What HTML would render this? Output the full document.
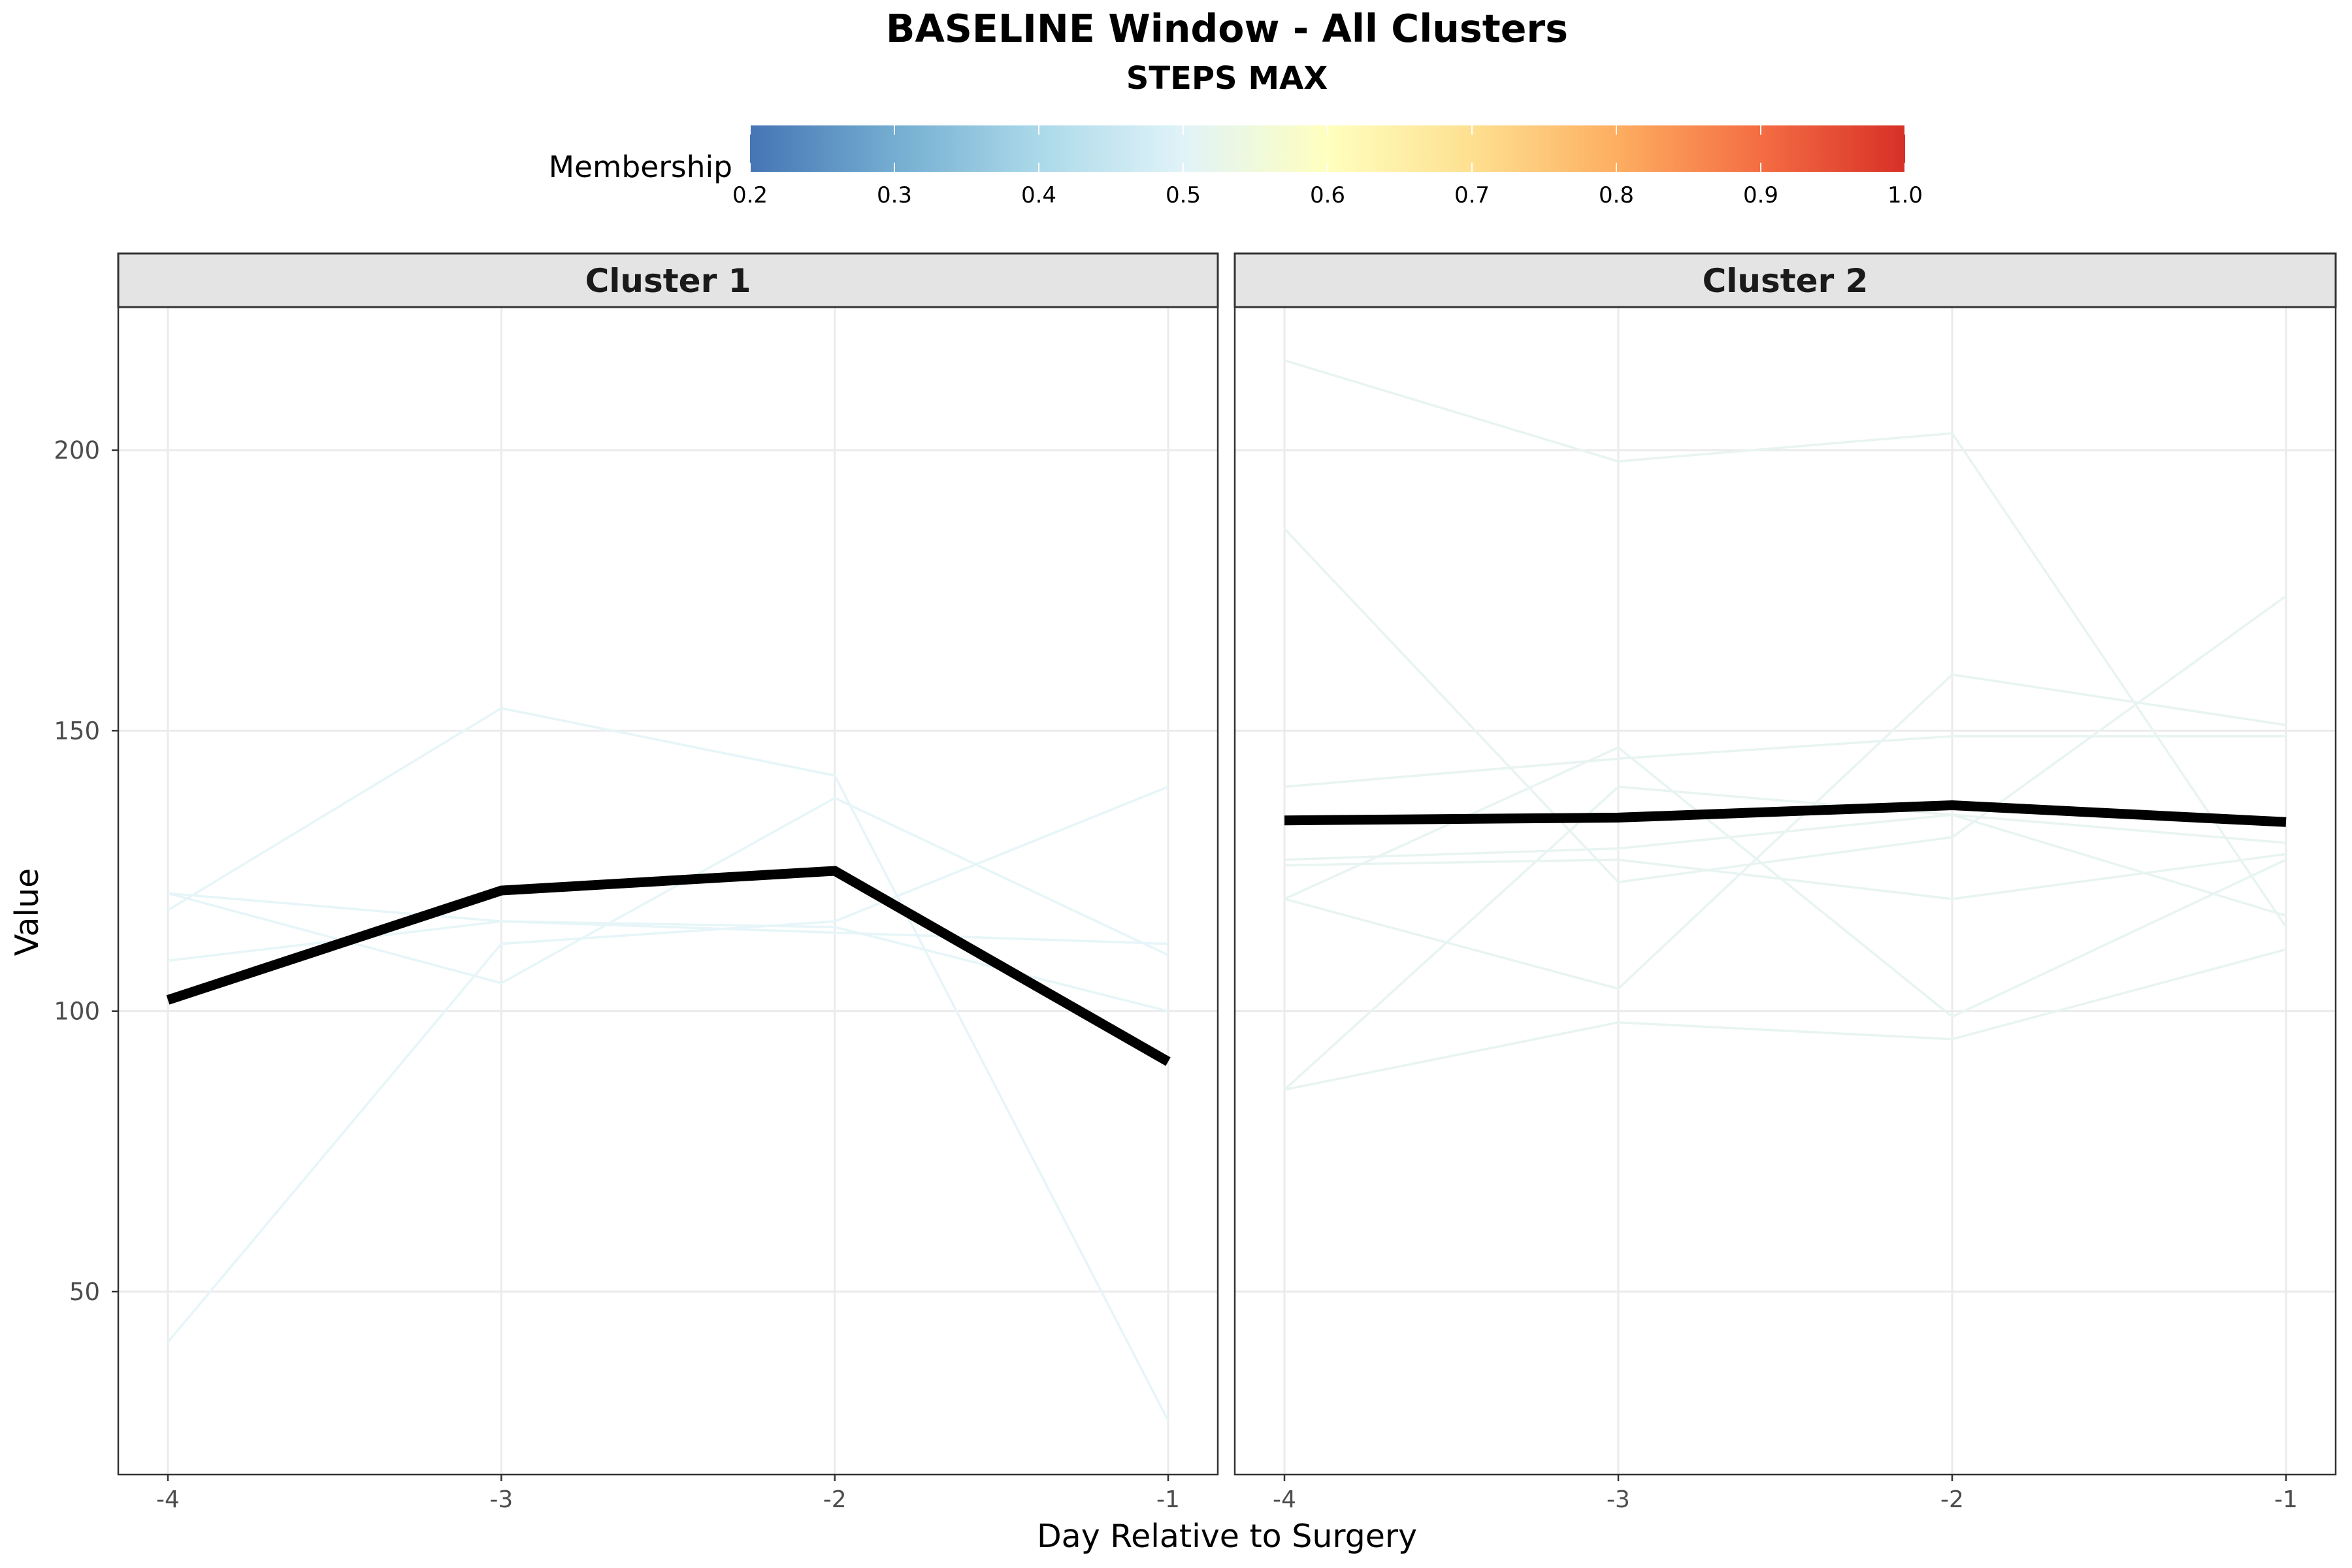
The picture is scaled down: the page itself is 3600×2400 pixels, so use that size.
<!DOCTYPE html>
<html><head><meta charset="utf-8">
<style>
html,body{margin:0;padding:0;background:#fff;}
svg{display:block;font-family:"DejaVu Sans","Liberation Sans",sans-serif;}
</style></head>
<body>
<svg id="chart" width="3600" height="2400" viewBox="0 0 3600 2400" xmlns="http://www.w3.org/2000/svg">
<defs>
<linearGradient id="cmap" x1="0" x2="1" y1="0" y2="0">
<stop offset="0" stop-color="#4575b4"/>
<stop offset="0.125" stop-color="#74add1"/>
<stop offset="0.25" stop-color="#abd9e9"/>
<stop offset="0.375" stop-color="#e0f3f8"/>
<stop offset="0.5" stop-color="#ffffbf"/>
<stop offset="0.625" stop-color="#fee090"/>
<stop offset="0.75" stop-color="#fdae61"/>
<stop offset="0.875" stop-color="#f46d43"/>
<stop offset="1" stop-color="#d73027"/>
</linearGradient>
</defs>
<rect width="3600" height="2400" fill="#fff"/>
<text x="1878" y="64" font-size="58.5" font-weight="bold" text-anchor="middle">BASELINE Window - All Clusters</text>
<text x="1878" y="136" font-size="48" font-weight="bold" text-anchor="middle">STEPS MAX</text>
<g id="legend">
<text x="1121" y="271" font-size="45.5" text-anchor="end">Membership</text>
<rect x="1148" y="192" width="1768" height="71" fill="url(#cmap)"/>
<g id="cbticks"></g>
</g>
<g id="panels"></g>
<text x="0" y="0" font-size="49" text-anchor="middle" transform="translate(58,1396) rotate(-90)">Value</text>
<text x="1878" y="2368" font-size="49" text-anchor="middle">Day Relative to Surgery</text>
</svg>
<script>
const days = [-4, -3, -2, -1];
const yTicks = [50, 100, 150, 200];
const cbTicks = [0.2, 0.3, 0.4, 0.5, 0.6, 0.7, 0.8, 0.9, 1.0];
const clusterNames = ["Cluster 1", "Cluster 2"];
const c1Mean = [102, 121.5, 125, 91];
const c1Lines = [
  [118, 154, 142, 27],
  [121, 116, 114, 112],
  [121, 105, 138, 110],
  [109, 116, 115, 100],
  [41, 112, 116, 140]
];
const c2Mean = [134, 134.5, 136.7, 133.7];
const c2Lines = [
  [216, 198, 203, 115],
  [186, 123, 131, 174],
  [140, 145, 149, 149],
  [127, 129, 135, 130],
  [126, 127, 120, 128],
  [120, 147, 99, 127],
  [120, 104, 160, 151],
  [86, 140, 135, 117],
  [86, 98, 95, 111]
];
const NS = "http://www.w3.org/2000/svg";
function mk(tag, attrs, parent){const e=document.createElementNS(NS,tag);for(const k in attrs)e.setAttribute(k,attrs[k]);parent.appendChild(e);return e;}

const cbg = document.getElementById('cbticks');
const cbX = v => 1148 + (v - 0.2) / 0.8 * 1768;
cbTicks.forEach(v=>{
  const x=cbX(v);
  const t1=mk('line',{x1:x,x2:x,y1:192,y2:206,stroke:'#fff','stroke-width':2},cbg);
  
  
  const t2=mk('line',{x1:x,x2:x,y1:249,y2:263,stroke:'#fff','stroke-width':2},cbg);
  
  
  const tl=mk('text',{x:x,y:310,'font-size':34,'text-anchor':'middle'},cbg);
  tl.textContent=v.toFixed(1);
  
  
});

const panelsG=document.getElementById('panels');
const panelDefs=[{x0:181,x1:1864,mean:c1Mean,lines:c1Lines,col:'#e6f5f8'},{x0:1890,x1:3575,mean:c2Mean,lines:c2Lines,col:'#e8f4f2'}];
const plotTop=470, plotBottom=2257;
const yS = v => 689 + (200 - v) * (1977 - 689) / 150;
panelDefs.forEach((p,pi)=>{
  const g=mk('g',{},panelsG);
  
  
  const xS = d => (p.x0+76) + (d + 4) * ((p.x1-p.x0-152) / 3);
  yTicks.forEach(v=>{
    const l=mk('line',{x1:p.x0,x2:p.x1,y1:yS(v),y2:yS(v),stroke:'#ebebeb','stroke-width':3},g);
    
    
  });
  days.forEach(d=>{
    const l=mk('line',{x1:xS(d),x2:xS(d),y1:plotTop,y2:plotBottom,stroke:'#ebebeb','stroke-width':3},g);
    
    
  });
  p.lines.forEach(arr=>{
    const pts=arr.map((v,i)=>xS(days[i])+','+yS(v)).join(' ');
    const pl=mk('polyline',{points:pts,fill:'none',stroke:p.col,'stroke-width':3.5},g);
    
    
  });
  const mpts=p.mean.map((v,i)=>xS(days[i])+','+yS(v)).join(' ');
  const ml=mk('polyline',{points:mpts,fill:'none',stroke:'#000','stroke-width':15},g);
  
  
  const br=mk('rect',{x:p.x0,y:plotTop,width:p.x1-p.x0,height:plotBottom-plotTop,fill:'none',stroke:'#333','stroke-width':2.5},g);
  
  
  const st=mk('rect',{x:p.x0,y:388,width:p.x1-p.x0,height:82,fill:'#e4e4e4',stroke:'#333','stroke-width':3},g);
  
  
  const stt=mk('text',{x:(p.x0+p.x1)/2,y:447,'font-size':50,'font-weight':'bold','text-anchor':'middle',fill:'#1a1a1a'},g);
  stt.textContent=clusterNames[pi];
  
  
  days.forEach(d=>{
    const tk=mk('line',{x1:xS(d),x2:xS(d),y1:plotBottom,y2:plotBottom+10,stroke:'#333','stroke-width':2.5},g);
    
    
    const tl=mk('text',{x:xS(d),y:2307,'font-size':36,'text-anchor':'middle',fill:'#4d4d4d'},g);
    tl.textContent=String(d);
    
    
  });
  if(pi===0){
    yTicks.forEach(v=>{
      const tk=mk('line',{x1:p.x0-10,x2:p.x0,y1:yS(v),y2:yS(v),stroke:'#333','stroke-width':2.5},g);
      
      
      const tl=mk('text',{x:p.x0-28,y:yS(v)+13,'font-size':37,'text-anchor':'end',fill:'#4d4d4d'},g);
      tl.textContent=String(v);
      
      
    });
  }
});
</script>
</body></html>
